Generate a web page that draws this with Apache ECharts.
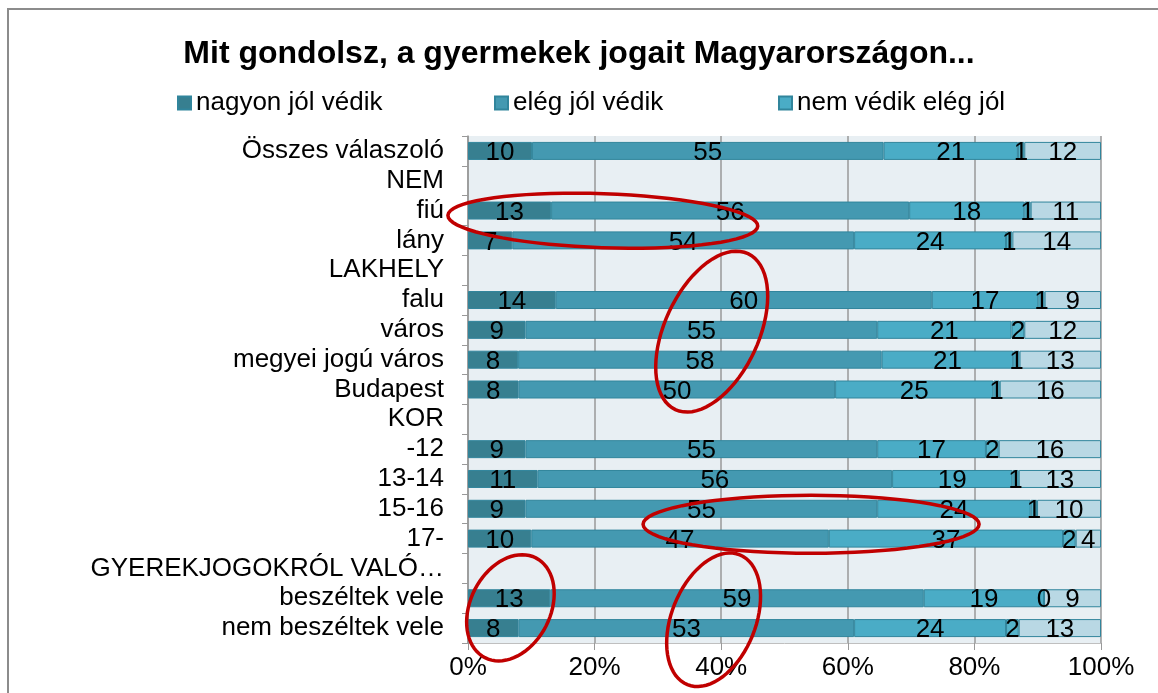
<!DOCTYPE html>
<html>
<head>
<meta charset="utf-8">
<script src="https://cdn.jsdelivr.net/npm/echarts@6/dist/echarts.min.js"></script>
<style>
  html, body { margin: 0; padding: 0; background: #fff; }
  #chart { width: 1158px; height: 693px; }
</style>
</head>
<body>
<div id="chart"></div>
<script>
// sorok (felülről lefelé)
var categories = ["Összes válaszoló", "NEM", "fiú", "lány", "LAKHELY", "falu", "város",
  "megyei jogú város", "Budapest", "KOR", "-12", "13-14", "15-16", "17-",
  "GYEREKJOGOKRÓL VALÓ…", "beszéltek vele", "nem beszéltek vele"];
var seriesNames = ["nagyon jól védik", "elég jól védik", "nem védik elég jól", "egyáltalán nem védik", "nem tudja"];

// % értékek, null = fejléc sor
var nagyonJol = [10, null, 13, 7, null, 14, 9, 8, 8, null, 9, 11, 9, 10, null, 13, 8];
var elegJol   = [55, null, 56, 54, null, 60, 55, 58, 50, null, 55, 56, 55, 47, null, 59, 53];
var nemElegJol = [21, null, 18, 24, null, 17, 21, 21, 25, null, 17, 19, 24, 37, null, 19, 24];
var egyaltalan = [1, null, 1, 1, null, 1, 2, 1, 1, null, 2, 1, 1, 2, null, 0, 2];
var nemTudja  = [12, null, 11, 14, null, 9, 12, 13, 16, null, 16, 13, 10, 4, null, 9, 13];
var xTicks = [0, 20, 40, 60, 80, 100];

var colors = ["#377f90", "#4499b1", "#4aacc6", "#55b3ca", "#b9d8e4"];
var font = "'Liberation Sans', Arial, sans-serif";

// piros karikák: [x %, sor index, rx, ry, szög]
var marks = [
  [21.3, 2.34, 155, 27, -2],
  [38.5, 6.06, 86, 47, 65],
  [54.2, 12.52, 168, 29, 0],
  [6.7, 15.32, 56, 40, 63],
  [38.8, 15.72, 70, 42, 68]
];

var myChart = echarts.init(document.getElementById("chart"));
var option;

var rows = [nagyonJol, elegJol, nemElegJol, egyaltalan, nemTudja];
var totals = categories.map(function (c, i) {
  if (nagyonJol[i] == null) return null;
  return rows.reduce(function (s, r) { return s + r[i]; }, 0);
});

var series = rows.map(function (r, k) {
  return {
    name: seriesNames[k],
    type: "bar",
    stack: "all",
    barWidth: 18,
    itemStyle: { color: colors[k], borderColor: "#31859c", borderWidth: 1 },
    label: {
      show: true,
      position: "inside",
      color: "#000",
      fontSize: 26,
      fontFamily: font,
      offset: [0, 2],
      formatter: function (p) { return r[p.dataIndex]; }
    },
    data: r.map(function (v, i) {
      return v == null ? "-" : v / totals[i] * 100;
    })
  };
});

function legendAt(name, left) {
  return {
    data: [name],
    left: left,
    top: 85,
    icon: "rect",
    itemWidth: 13,
    itemHeight: 13,
    textStyle: { fontSize: 26, fontFamily: font, color: "#000" }
  };
}

option = {
  animation: false,
  color: colors,
  title: {
    text: "Mit gondolsz, a gyermekek jogait Magyarországon...",
    left: "center",
    top: 33,
    textStyle: { fontSize: 32, fontWeight: "bold", fontFamily: font, color: "#000" }
  },
  legend: [
    legendAt(seriesNames[0], 172),
    legendAt(seriesNames[1], 489),
    legendAt(seriesNames[2], 773)
  ],
  grid: {
    left: 468,
    right: 57,
    top: 136,
    bottom: 50,
    show: true,
    backgroundColor: "#e8eff3",
    borderWidth: 0
  },
  xAxis: {
    type: "value",
    min: 0,
    max: 100,
    interval: 20,
    axisLine: { show: true, lineStyle: { color: "#bfbfbf" } },
    axisTick: { show: true, length: 7, lineStyle: { color: "#999" } },
    splitLine: { lineStyle: { color: "#999", width: 1.5 } },
    axisLabel: {
      fontSize: 26,
      fontFamily: font,
      color: "#000",
      margin: 12,
      formatter: function (v) { return xTicks.indexOf(v) >= 0 ? v + "%" : ""; }
    }
  },
  yAxis: {
    type: "category",
    inverse: true,
    data: categories,
    axisLine: { show: true, lineStyle: { color: "#999", width: 1.5 } },
    axisTick: { show: true, length: 6, interval: 0, lineStyle: { color: "#999" } },
    axisLabel: { interval: 0, fontSize: 26, fontFamily: font, color: "#000", margin: 24 }
  },
  series: series
};

option && myChart.setOption(option);

// keret + karikák
function toPx(x, idx) {
  var i0 = Math.floor(idx);
  var p0 = myChart.convertToPixel({ gridIndex: 0 }, [x, i0]);
  var p1 = myChart.convertToPixel({ gridIndex: 0 }, [x, i0 + 1]);
  var f = idx - i0;
  return [p0[0], p0[1] + (p1[1] - p0[1]) * f];
}

var graphics = [{
  type: "rect",
  z: -10,
  shape: { x: 8, y: 9, width: 1300, height: 900 },
  style: { fill: "none", stroke: "#8c8c8c", lineWidth: 2 },
  silent: true
}];

marks.forEach(function (m) {
  var c = toPx(m[0], m[1]);
  var a = m[2], b = m[3], ang = m[4] * Math.PI / 180;
  var pts = [];
  for (var t = 0; t < 72; t++) {
    var th = t / 72 * Math.PI * 2;
    pts.push([
      c[0] + a * Math.cos(th) * Math.cos(ang) - b * Math.sin(th) * Math.sin(ang),
      c[1] - (a * Math.cos(th) * Math.sin(ang) + b * Math.sin(th) * Math.cos(ang))
    ]);
  }
  graphics.push({
    type: "polygon",
    z: 100,
    shape: { points: pts },
    style: { fill: "none", stroke: "#c00000", lineWidth: 3.5 },
    silent: true
  });
});

myChart.setOption({ graphic: graphics });
</script>
</body>
</html>
